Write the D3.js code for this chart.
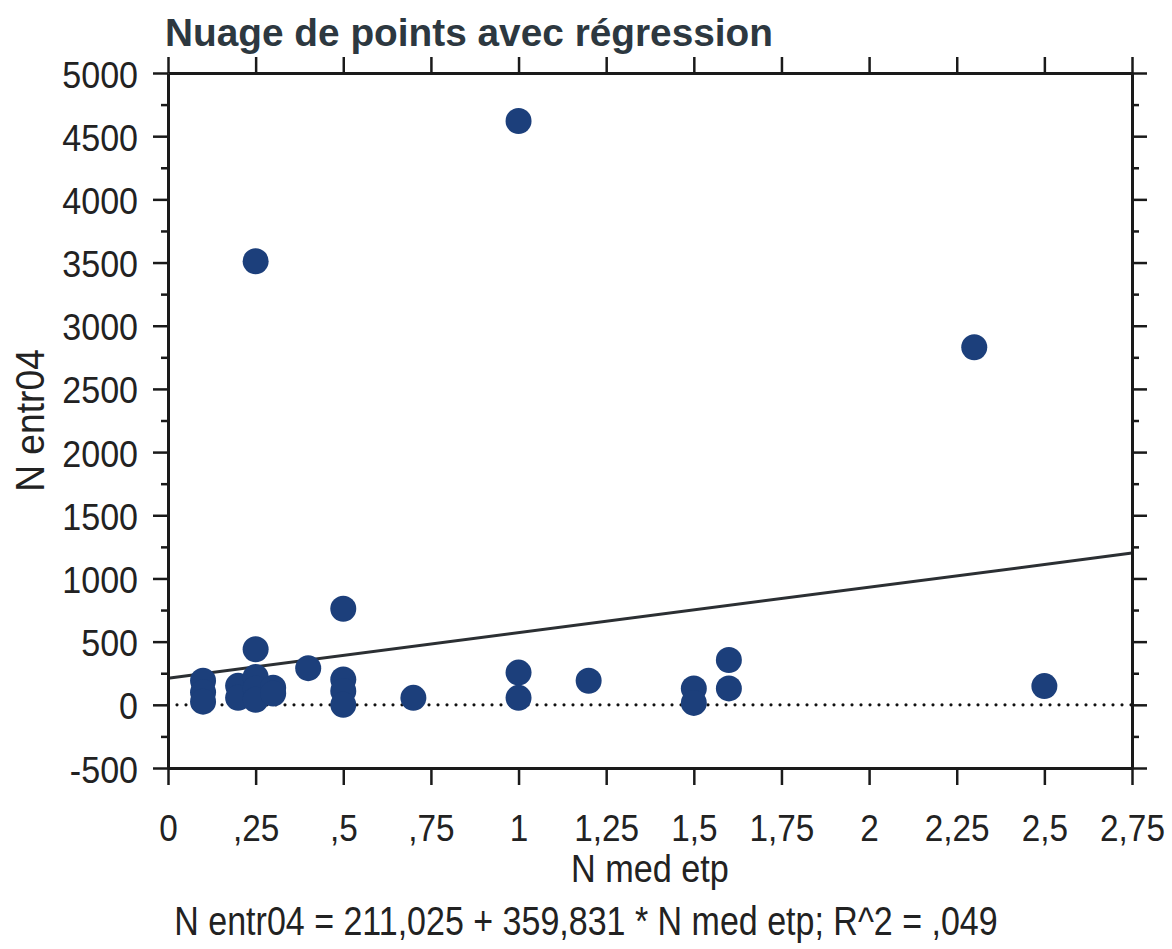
<!DOCTYPE html>
<html>
<head>
<meta charset="utf-8">
<script src="https://cdn.jsdelivr.net/npm/d3@7.9.0/dist/d3.min.js"></script>
<style>
  body { margin: 0; background: #fff; }
  svg { display: block; font-family: "Liberation Sans", Arial, sans-serif; }
</style>
</head>
<body>
<svg id="chart" width="1172" height="949"></svg>
<script>
// one entry per unit : N med etp (x) and N entr04 (y)
const medEtp = [0.1, 0.1, 0.1, 0.2, 0.2, 0.25, 0.25, 0.25, 0.25, 0.25, 0.3, 0.3,
                0.4, 0.5, 0.5, 0.5, 0.5, 0.7, 1, 1, 1, 1.2, 1.5, 1.5, 1.6, 1.6, 2.3, 2.5];
const entr04 = [190, 100, 25, 150, 55, 3510, 440, 220, 130, 40, 135, 90,
                290, 760, 200, 110, 0, 55, 4620, 255, 55, 190, 130, 15, 355, 130, 2830, 148];

const xTicks = [0, 0.25, 0.5, 0.75, 1, 1.25, 1.5, 1.75, 2, 2.25, 2.5, 2.75];
const yTicks = [-500, 0, 500, 1000, 1500, 2000, 2500, 3000, 3500, 4000, 4500, 5000];
const yMinorTicks = [-250, 250, 750, 1250, 1750, 2250, 2750, 3250, 3750, 4250, 4750];

// fitted line
const intercept = 211.025;
const slope = 359.831;

const titleText = 'Nuage de points avec régression';
const xTitle = 'N med etp';
const yTitle = 'N entr04';
const formulaText = 'N entr04 = 211,025 + 359,831 * N med etp; R^2 = ,049';

let svg = d3.select('#chart');

let x = d3.scaleLinear().domain([0, 2.75]).range([168, 1132]);
let y = d3.scaleLinear().domain([-500, 5000]).range([768, 73]);

// french style : ",25" "1,5"
const commaFmt = (v) => String(v).replace(/^0\./, '.').replace('.', ',');

// the scanned font is a bit narrower than Arial
function squeeze(sel, k) {
  sel.each(function () {
    let w = this.getComputedTextLength();
    d3.select(this).attr('textLength', w * k).attr('lengthAdjust', 'spacingAndGlyphs');
  });
}

// zero reference line
svg.append('line')
  .attr('x1', x(0)).attr('x2', x(2.75))
  .attr('y1', y(0)).attr('y2', y(0))
  .attr('stroke', '#111')
  .attr('stroke-width', 3.2)
  .attr('stroke-linecap', 'round')
  .attr('stroke-dasharray', '0 9');

// regression line
svg.append('line')
  .attr('x1', x(0)).attr('x2', x(2.75))
  .attr('y1', y(intercept)).attr('y2', y(intercept + slope * 2.75))
  .attr('stroke', '#2b2f33')
  .attr('stroke-width', 3);

// points
svg.append('g')
  .selectAll('circle')
  .data(medEtp)
  .join('circle')
  .attr('cx', (d) => x(d))
  .attr('cy', (d, i) => y(entr04[i]))
  .attr('r', 13)
  .attr('fill', '#1c3f7b');

// axes
let bottomAxis = svg.append('g').attr('class', 'axis')
  .attr('transform', `translate(0,${y(-500)})`)
  .call(d3.axisBottom(x).tickValues(xTicks).tickSize(17).tickSizeOuter(0).tickPadding(30).tickFormat(commaFmt));

svg.append('g').attr('class', 'axis')
  .attr('transform', `translate(0,${y(5000)})`)
  .call(d3.axisTop(x).tickValues(xTicks).tickSize(16).tickSizeOuter(0).tickFormat(''));

let leftAxis = svg.append('g').attr('class', 'axis')
  .attr('transform', `translate(${x(0)},0)`)
  .call(d3.axisLeft(y).tickValues(yTicks).tickSize(15).tickSizeOuter(0).tickPadding(15).tickFormat((v) => String(v)));

svg.append('g').attr('class', 'axis')
  .attr('transform', `translate(${x(0)},0)`)
  .call(d3.axisLeft(y).tickValues(yMinorTicks).tickSize(7).tickSizeOuter(0).tickFormat(''));

svg.append('g').attr('class', 'axis')
  .attr('transform', `translate(${x(2.75)},0)`)
  .call(d3.axisRight(y).tickValues(yTicks).tickSize(15).tickSizeOuter(0).tickFormat(''));

svg.append('g').attr('class', 'axis')
  .attr('transform', `translate(${x(2.75)},0)`)
  .call(d3.axisRight(y).tickValues(yMinorTicks).tickSize(7).tickSizeOuter(0).tickFormat(''));

svg.selectAll('.axis path').attr('stroke', '#1a1a1a').attr('stroke-width', 3);
svg.selectAll('.axis line').attr('stroke', '#1a1a1a').attr('stroke-width', 2.5);
svg.selectAll('.axis').attr('font-family', null).attr('font-size', 37);
svg.selectAll('.axis text').attr('fill', '#222');
leftAxis.selectAll('text').attr('dy', '0.38em');
squeeze(bottomAxis.selectAll('text'), 0.9);
squeeze(leftAxis.selectAll('text'), 0.92);

// titles
svg.append('text')
  .attr('x', 165).attr('y', 46)
  .attr('font-size', 38)
  .attr('font-weight', 'bold')
  .attr('fill', '#2d3840')
  .attr('textLength', 608)
  .attr('lengthAdjust', 'spacingAndGlyphs')
  .text(titleText);

let xt = svg.append('text')
  .attr('x', (x(0) + x(2.75)) / 2).attr('y', 882)
  .attr('text-anchor', 'middle')
  .attr('font-size', 38)
  .attr('fill', '#222')
  .text(xTitle);
squeeze(xt, 0.9);

let yt = svg.append('text')
  .attr('transform', `translate(44,${(y(-500) + y(5000)) / 2}) rotate(-90)`)
  .attr('text-anchor', 'middle')
  .attr('font-size', 40)
  .attr('fill', '#222')
  .text(yTitle);
squeeze(yt, 0.93);

let ft = svg.append('text')
  .attr('x', 586).attr('y', 935)
  .attr('text-anchor', 'middle')
  .attr('font-size', 40)
  .attr('fill', '#222')
  .text(formulaText);
squeeze(ft, 0.85);
</script>
</body>
</html>
